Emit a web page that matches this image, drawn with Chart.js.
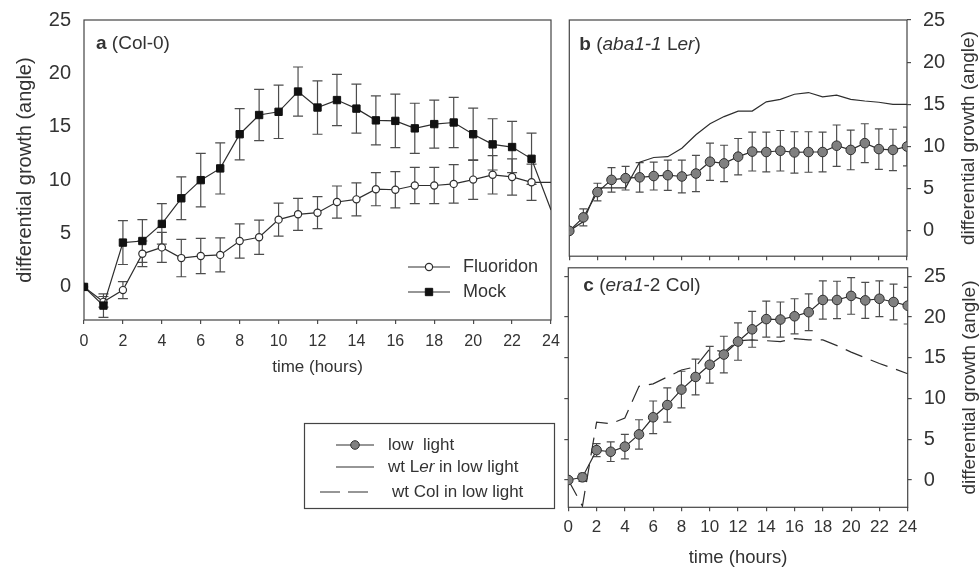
<!DOCTYPE html>
<html>
<head>
<meta charset="utf-8">
<title>Differential growth</title>
<script src="https://cdn.jsdelivr.net/npm/chart.js@4.4.1/dist/chart.umd.min.js"></script>
<style>
  html, body { margin: 0; padding: 0; background: #fff; }
  body { width: 980px; height: 569px; position: relative; overflow: hidden; }
  canvas { position: absolute; }
  #panel_a { left: 0; top: 0; }
  #panel_b { left: 560px; top: 0; }
  #panel_c { left: 560px; top: 262px; }
</style>
</head>
<body>
<canvas id="panel_a" width="565" height="569"></canvas>
<canvas id="panel_b" width="420" height="262"></canvas>
<canvas id="panel_c" width="420" height="307"></canvas>
<script>
// sampling times (hours) and axis ticks
const hours = [0, 1, 2, 3, 4, 5, 6, 7, 8, 9, 10, 11, 12, 13, 14, 15, 16, 17, 18, 19, 20, 21, 22, 23, 24];
const hourTicks = [0, 2, 4, 6, 8, 10, 12, 14, 16, 18, 20, 22, 24];
const angleTicks = [0, 5, 10, 15, 20, 25];

// a: Col-0, fluoridon vs mock (means and error bars)
const fluoridon = [0, -1.4, -0.3, 3.1, 3.7, 2.7, 2.9, 3.0, 4.3, 4.65, 6.3, 6.8, 6.95, 7.95, 8.2, 9.15, 9.1, 9.5, 9.5, 9.65, 10.05, 10.5, 10.3, 9.8, 9.8];
const fluoridon_err = [0, 0.5, 0.8, 1.2, 1.4, 1.75, 1.65, 1.6, 1.6, 1.6, 1.55, 1.5, 1.5, 1.5, 1.55, 1.55, 1.7, 1.7, 1.7, 1.8, 1.85, 1.8, 1.7, 1.7, null];
const mock = [0, -1.75, 4.15, 4.3, 5.9, 8.3, 10.0, 11.1, 14.3, 16.1, 16.4, 18.3, 16.8, 17.5, 16.7, 15.6, 15.55, 14.85, 15.25, 15.4, 14.3, 13.35, 13.1, 12.0, 7.2];
const mock_err = [0, 1.1, 2.05, 2.0, 1.9, 2.0, 2.5, 2.4, 2.4, 2.4, 2.5, 2.3, 2.5, 2.4, 2.3, 2.3, 2.5, 2.35, 2.25, 2.35, 2.45, 2.4, 2.4, 2.4, null];

// b: aba1-1 in low light, wild type Ler for comparison
const aba1_low = [0, 1.6, 4.6, 6.05, 6.25, 6.35, 6.5, 6.6, 6.45, 6.8, 8.2, 8.0, 8.8, 9.4, 9.35, 9.5, 9.3, 9.35, 9.35, 10.1, 9.6, 10.4, 9.7, 9.6, 10.0];
const aba1_err = [0, 1.0, 1.05, 1.45, 1.4, 1.75, 1.65, 1.8, 1.95, 2.15, 2.2, 2.15, 2.15, 2.3, 2.35, 2.4, 2.45, 2.4, 2.35, 2.45, 2.35, 2.3, 2.4, 2.45, 2.3];
const wt_ler = [0, 1.1, 5.1, 5.1, 5.1, 8.15, 8.7, 8.8, 9.8, 11.4, 12.7, 13.55, 14.2, 14.2, 15.3, 15.6, 16.2, 16.4, 15.9, 16.1, 15.6, 15.4, 15.25, 15.0, 15.0];

// c: era1-2 in low light, wild type Col for comparison
const era1_low = [0, 0.33, 3.67, 3.47, 4.1, 5.6, 7.7, 9.2, 11.1, 12.65, 14.15, 15.4, 17.0, 18.5, 19.75, 19.7, 20.1, 20.6, 22.1, 22.1, 22.6, 22.05, 22.25, 21.85, 21.4];
const era1_err = [0, 0.5, 0.8, 1.2, 1.5, 1.8, 2.0, 2.1, 2.25, 2.2, 2.25, 2.25, 2.3, 2.2, 2.2, 2.15, 2.15, 2.25, 2.35, 2.3, 2.25, 2.2, 2.2, 2.2, 2.25];
const wt_col = [0, -3.2, 7.1, 6.9, 7.6, 11.5, 11.8, 12.65, 13.5, 13.9, 16.1, 15.7, 17.1, 17.2, 17.1, 17.0, 17.35, 17.2, 17.2, 16.5, 15.7, 15.0, 14.3, 13.7, 13.05];

const FONT = '"Liberation Sans", Arial, Helvetica, sans-serif';
const INK = '#2e2e2e';
const TEXT = '#333';
const BAR = '#4d4d4d';
const FILL = '#808080';
const Y_TITLE = 'differential growth (angle)';

function points(ys) {
  return hours.map((h, i) => ({ x: h, y: ys[i] }));
}

function fnt(size, style) {
  return (style || '') + ' ' + size + 'px ' + FONT;
}

// fixed axis sizes so the three plot frames line up
function fixWidth(w) {
  return s => { s.width = w; s.paddingTop = 0; s.paddingBottom = 0; };
}
function fixHeight(h) {
  return s => { s.height = h; s.paddingLeft = 0; s.paddingRight = 0; };
}
function setTicks(values) {
  return s => { s.ticks = values.map(v => ({ value: v })); };
}

function tickGrid() {
  return { drawOnChartArea: false, drawTicks: true, tickLength: 4, color: BAR, lineWidth: 1.2 };
}

// box round the plot area
const frame = {
  id: 'frame',
  beforeDatasetsDraw(chart) {
    const a = chart.chartArea, ctx = chart.ctx;
    ctx.save();
    ctx.strokeStyle = '#444';
    ctx.lineWidth = 1.2;
    ctx.strokeRect(a.left, a.top, a.right - a.left, a.bottom - a.top);
    ctx.restore();
  }
};

// vertical error bars with caps, read from dataset.errors
const errorBars = {
  id: 'errorBars',
  beforeDatasetsDraw(chart) {
    const ctx = chart.ctx, a = chart.chartArea;
    ctx.save();
    ctx.beginPath();
    ctx.rect(a.left, a.top, a.right - a.left, a.bottom - a.top);
    ctx.clip();
    ctx.strokeStyle = BAR;
    ctx.lineWidth = 1.2;
    chart.data.datasets.forEach(ds => {
      if (!ds.errors) return;
      const xs = chart.scales.x, ys = chart.scales.y;
      const w = ds.capWidth / 2;
      ds.data.forEach((p, j) => {
        const e = ds.errors[j];
        if (!e) return;
        const x = xs.getPixelForValue(p.x);
        const hi = ys.getPixelForValue(p.y + e);
        const lo = ys.getPixelForValue(p.y - e);
        ctx.beginPath();
        ctx.moveTo(x, hi); ctx.lineTo(x, lo);
        ctx.moveTo(x - w, hi); ctx.lineTo(x + w, hi);
        ctx.moveTo(x - w, lo); ctx.lineTo(x + w, lo);
        ctx.stroke();
      });
    });
    ctx.restore();
  }
};

// text made of runs with different styles (bold / italic)
function drawRuns(ctx, runs, x, y, size, align) {
  let w = 0;
  runs.forEach(([t, s]) => { ctx.font = fnt(size, s); w += ctx.measureText(t).width; });
  let cx = align === 'center' ? x - w / 2 : x;
  ctx.textAlign = 'left';
  ctx.textBaseline = 'middle';
  ctx.fillStyle = TEXT;
  runs.forEach(([t, s]) => {
    ctx.font = fnt(size, s);
    ctx.fillText(t, cx, y);
    cx += ctx.measureText(t).width;
  });
}

function drawMarker(ctx, kind, x, y, r) {
  ctx.beginPath();
  if (kind === 'rect') {
    const h = r * Math.SQRT1_2;
    ctx.rect(x - h, y - h, 2 * h, 2 * h);
  } else {
    ctx.arc(x, y, r, 0, Math.PI * 2);
  }
  ctx.fill();
  ctx.stroke();
}

// legend row: sample line, optional marker, label
function legendRow(ctx, row) {
  ctx.save();
  ctx.strokeStyle = INK;
  ctx.lineWidth = 1.2;
  ctx.setLineDash(row.dash || []);
  ctx.beginPath();
  ctx.moveTo(row.x0, row.y);
  ctx.lineTo(row.x1, row.y);
  ctx.stroke();
  ctx.setLineDash([]);
  if (row.marker) {
    ctx.fillStyle = row.marker.fill;
    ctx.strokeStyle = row.marker.stroke;
    ctx.lineWidth = row.marker.width;
    drawMarker(ctx, row.marker.kind, (row.x0 + row.x1) / 2, row.y, row.marker.r);
  }
  drawRuns(ctx, row.runs, row.tx, row.y, row.size, 'left');
  ctx.restore();
}

function notes(draw) {
  return { id: 'notes', afterDraw(chart) { const ctx = chart.ctx; ctx.save(); draw(ctx, chart.chartArea); ctx.restore(); } };
}

function rightTitle(ctx, a) {
  ctx.save();
  ctx.translate(a.right + 62, (a.top + a.bottom) / 2);
  ctx.rotate(-Math.PI / 2);
  drawRuns(ctx, [[Y_TITLE, '']], 0, 0, 19, 'center');
  ctx.restore();
}

const openCircle = { kind: 'circle', r: 3.6, fill: '#fff', stroke: INK, width: 1.2 };
const blackSquare = { kind: 'rect', r: 5.2, fill: '#111', stroke: '#111', width: 1 };
const greyCircle = { kind: 'circle', r: 4.3, fill: FILL, stroke: INK, width: 1 };

// ---------- panel a ----------
new Chart(document.getElementById('panel_a'), {
  type: 'line',
  data: {
    datasets: [
      {
        label: 'Mock', data: points(mock), errors: mock_err, capWidth: 10,
        borderColor: INK, borderWidth: 1.2, tension: 0,
        pointStyle: 'rect', pointRadius: hours.map(h => h === 24 ? 0 : 5.2),
        pointBackgroundColor: '#111', pointBorderColor: '#111', pointBorderWidth: 1
      },
      {
        label: 'Fluoridon', data: points(fluoridon), errors: fluoridon_err, capWidth: 10,
        borderColor: INK, borderWidth: 1.2, tension: 0,
        pointStyle: 'circle', pointRadius: hours.map(h => h === 24 ? 0 : 3.6),
        pointBackgroundColor: '#fff', pointBorderColor: INK, pointBorderWidth: 1.2
      }
    ]
  },
  options: {
    responsive: false,
    animation: false,
    layout: { padding: { top: 20, left: 0, right: 14, bottom: 189 } },
    plugins: { legend: { display: false }, tooltip: { enabled: false } },
    scales: {
      x: {
        type: 'linear', min: 0, max: 24,
        afterBuildTicks: setTicks(hourTicks),
        afterFit: fixHeight(60),
        border: { display: false },
        grid: tickGrid(),
        ticks: { color: TEXT, font: { family: FONT, size: 16 }, padding: 8, maxRotation: 0, autoSkip: false },
        title: { display: true, text: 'time (hours)', color: TEXT, font: { family: FONT, size: 17 }, padding: { top: 0, bottom: 2 } }
      },
      y: {
        type: 'linear', min: -3.1, max: 25,
        afterBuildTicks: setTicks(angleTicks),
        afterFit: fixWidth(84),
        border: { display: false },
        grid: { display: false, drawTicks: false },
        ticks: { color: TEXT, font: { family: FONT, size: 20 }, padding: 13 },
        title: { display: true, text: Y_TITLE, color: TEXT, font: { family: FONT, size: 20 }, padding: { top: 13, bottom: 0 } }
      }
    }
  },
  plugins: [frame, errorBars, notes((ctx, a) => {
    drawRuns(ctx, [['a', 'bold'], [' (Col-0)', '']], a.left + 12, a.top + 24, 19, 'left');
    legendRow(ctx, { x0: 408, x1: 450, y: 267, marker: openCircle, runs: [['Fluoridon', '']], tx: 463, size: 18 });
    legendRow(ctx, { x0: 408, x1: 450, y: 292, marker: blackSquare, runs: [['Mock', '']], tx: 463, size: 18 });

    // key shared by panels b and c
    ctx.strokeStyle = '#444';
    ctx.lineWidth = 1.2;
    ctx.strokeRect(304.5, 423.5, 250, 85);
    legendRow(ctx, { x0: 336, x1: 374, y: 445, marker: greyCircle, runs: [['low  light', '']], tx: 388, size: 17 });
    legendRow(ctx, { x0: 336, x1: 374, y: 467, runs: [['wt L', ''], ['er', 'italic'], [' in low light', '']], tx: 388, size: 17 });
    legendRow(ctx, { x0: 320, x1: 368, y: 492, dash: [20, 8], runs: [['wt Col in low light', '']], tx: 392, size: 17 });
  })]
});

// ---------- panel b ----------
new Chart(document.getElementById('panel_b'), {
  type: 'line',
  data: {
    datasets: [
      {
        label: 'low light', data: points(aba1_low), errors: aba1_err, capWidth: 8,
        borderColor: INK, borderWidth: 1.2, tension: 0,
        pointStyle: 'circle', pointRadius: 4.8,
        pointBackgroundColor: FILL, pointBorderColor: INK, pointBorderWidth: 1
      },
      {
        label: 'wt Ler in low light', data: points(wt_ler),
        borderColor: INK, borderWidth: 1.2, tension: 0, pointRadius: 0
      }
    ]
  },
  options: {
    responsive: false,
    animation: false,
    layout: { padding: { top: 20, left: 9.3, right: 0, bottom: 0 } },
    plugins: { legend: { display: false }, tooltip: { enabled: false } },
    scales: {
      x: {
        type: 'linear', min: 0, max: 24,
        afterBuildTicks: setTicks(hourTicks),
        afterFit: fixHeight(5),
        border: { display: false },
        grid: tickGrid(),
        ticks: { display: false, autoSkip: false }
      },
      y: {
        type: 'linear', position: 'right', min: -3, max: 25,
        afterBuildTicks: setTicks(angleTicks),
        afterFit: fixWidth(73),
        border: { display: false },
        grid: tickGrid(),
        ticks: { color: TEXT, font: { family: FONT, size: 20 }, padding: 12 }
      }
    }
  },
  plugins: [frame, errorBars, notes((ctx, a) => {
    drawRuns(ctx, [['b', 'bold'], [' (', ''], ['aba1-1', 'italic'], [' L', ''], ['er', 'italic'], [')', '']], a.left + 10, a.top + 25, 19, 'left');
    rightTitle(ctx, a);
  })]
});

// ---------- panel c ----------
new Chart(document.getElementById('panel_c'), {
  type: 'line',
  data: {
    datasets: [
      {
        label: 'low light', data: points(era1_low), errors: era1_err, capWidth: 8,
        borderColor: INK, borderWidth: 1.2, tension: 0,
        pointStyle: 'circle', pointRadius: 4.8,
        pointBackgroundColor: FILL, pointBorderColor: INK, pointBorderWidth: 1
      },
      {
        label: 'wt Col in low light', data: points(wt_col),
        borderColor: INK, borderWidth: 1.2, borderDash: [18, 9], tension: 0, pointRadius: 0
      }
    ]
  },
  options: {
    responsive: false,
    animation: false,
    layout: { padding: { top: 5.3, left: 0, right: 0, bottom: 0 } },
    plugins: { legend: { display: false }, tooltip: { enabled: false } },
    scales: {
      x: {
        type: 'linear', min: 0, max: 24,
        afterBuildTicks: setTicks(hourTicks),
        afterFit: fixHeight(61.7),
        border: { display: false },
        grid: tickGrid(),
        ticks: { color: TEXT, font: { family: FONT, size: 17 }, padding: 5.5, maxRotation: 0, autoSkip: false },
        title: { display: true, text: 'time (hours)', color: TEXT, font: { family: FONT, size: 18.5 }, padding: { top: 0, bottom: 0 } }
      },
      y: {
        type: 'linear', position: 'right', min: -3.35, max: 26.05,
        afterBuildTicks: setTicks(angleTicks),
        afterFit: fixWidth(72.3),
        border: { display: false },
        grid: tickGrid(),
        ticks: { color: TEXT, font: { family: FONT, size: 20 }, padding: 12 }
      },
      yl: {
        type: 'linear', position: 'left', min: -3.35, max: 26.05,
        afterBuildTicks: setTicks(angleTicks),
        afterFit: fixWidth(8.3),
        border: { display: false },
        grid: tickGrid(),
        ticks: { display: false }
      }
    }
  },
  plugins: [frame, errorBars, notes((ctx, a) => {
    drawRuns(ctx, [['c', 'bold'], [' (', ''], ['era1', 'italic'], ['-2 Col)', '']], a.left + 15, a.top + 18, 19, 'left');
    rightTitle(ctx, a);
  })]
});
</script>
</body>
</html>
